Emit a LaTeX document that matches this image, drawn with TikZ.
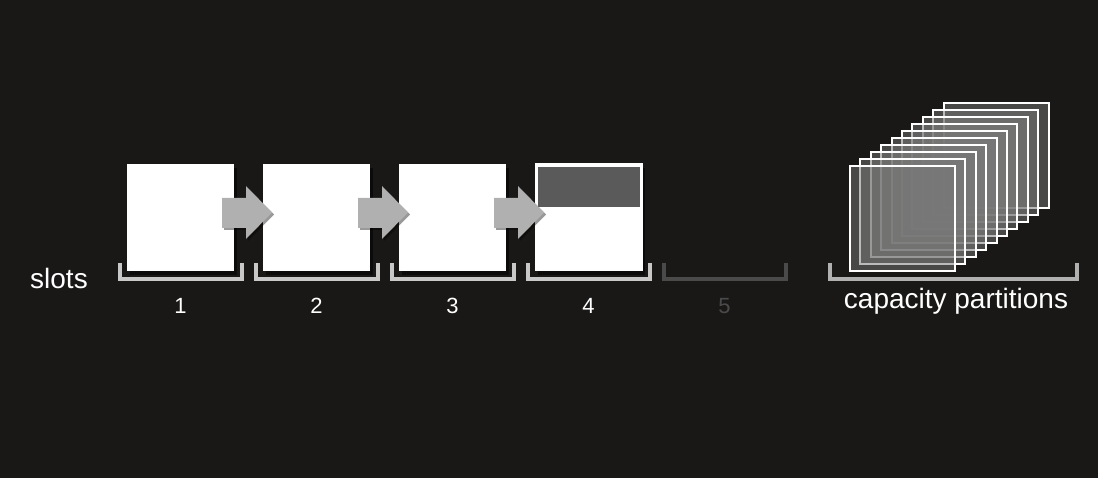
\documentclass[tikz,border=0pt]{standalone}
\usepackage{fontspec}
\setmainfont{Liberation Sans}
\usetikzlibrary{calc,shadows}
\definecolor{bg}{HTML}{191817}
\definecolor{brk}{HTML}{C8C8C8}
\definecolor{brkdim}{HTML}{4A4A4A}
\definecolor{arr}{HTML}{B0B0B0}
\definecolor{topfill}{HTML}{5A5A5A}
\definecolor{partfill}{HTML}{787878}
\tikzset{
  slotbox/.style={fill=white, minimum width=107pt, minimum height=107pt, inner sep=0pt, outer sep=0pt,
    drop shadow={shadow xshift=3pt, shadow yshift=-4pt, opacity=0.5, fill=black}},
  bracketline/.style={line width=4pt, color=brk},
  blockarrow/.style={fill=arr, drop shadow={shadow xshift=2pt, shadow yshift=-2pt, opacity=0.4, fill=black}},
  numlabel/.style={text=white, font=\fontsize{22}{26}\selectfont},
  biglabel/.style={text=white, font=\fontsize{28}{32}\selectfont},
  partbox/.style={draw=white, line width=2pt, fill=partfill, fill opacity=0.5, minimum width=105pt, minimum height=105pt, inner sep=0pt}
}
\begin{document}
\begin{tikzpicture}[x=1pt,y=-1pt]
\fill[bg] (0,0) rectangle (1098,478);
\useasboundingbox (0,0) rectangle (1098,478);

% slot boxes
\node[slotbox] (b1) at (180.5,217.5) {};
\node[slotbox] (b2) at (316.5,217.5) {};
\node[slotbox] (b3) at (452.5,217.5) {};
\node[slotbox, draw=white, line width=1pt] (b4) at (588.5,217.5) {};
\fill[topfill] ($(b4.north west)+(3,3)$) rectangle ($(b4.north east)+(-2,43)$);

% arrows
\foreach \a/\b in {b1/b2, b2/b3, b3/b4}{
  \path[blockarrow] ($(\a.east)+(-12,-19.5)$) -- ($(\a.east)+(12,-19.5)$) -- ($(\a.east)+(12,-31.5)$)
    -- ($(\b.west)+(9,-5)$) -- ($(\a.east)+(12,21.5)$) -- ($(\a.east)+(12,10.5)$) -- ($(\a.east)+(-12,10.5)$) -- cycle;
}

% slot anchors for brackets
\foreach \i/\cx in {1/180.5,2/316.5,3/452.5,4/588.5,5/724.5}{
  \coordinate (l\i) at (\cx-61,263);
  \coordinate (r\i) at (\cx+61,263);
}
\foreach \i in {1,2,3,4}{
  \draw[bracketline] (l\i) -- ++(0,16) -| (r\i);
}
\draw[bracketline, color=brkdim] (l5) -- ++(0,16) -| (r5);

% numbers
\node[numlabel] (n1) at (180.5,306) {1};
\node[numlabel] (n2) at (316.5,306) {2};
\node[numlabel] (n3) at (452.5,306) {3};
\node[numlabel] (n4) at (588.5,306) {4};
\node[numlabel, text=brkdim] (n5) at (724.5,306) {5};

\node[biglabel] (slots) at (59,278) {slots};

% capacity partitions stack
\foreach \k in {9,8,...,0}{
  \node[partbox] (p\k) at (902.5+10.4*\k,219-7*\k) {};
}
\coordinate (cl) at (830,263);
\coordinate (cr) at (1077,263);
\draw[line width=4pt, color=arr] (cl) -- ++(0,16) -| (cr);
\node[biglabel] (cap) at (956,301) {capacity partitions};
\end{tikzpicture}
\end{document}
